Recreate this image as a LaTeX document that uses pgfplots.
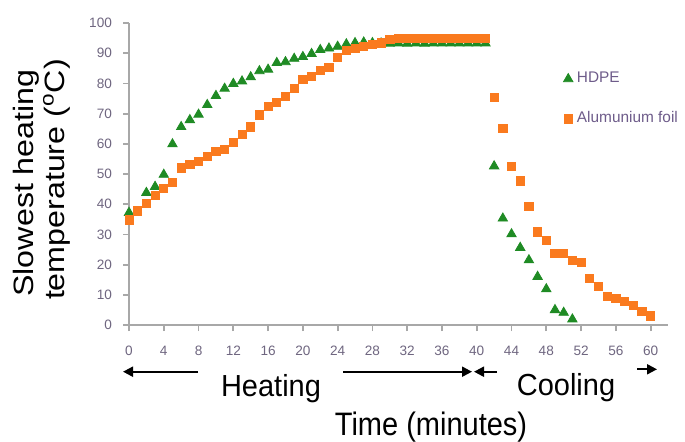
\documentclass[border=0pt]{standalone}
\usepackage{fontspec}
\setmainfont{Liberation Sans}
\usepackage{pgfplots}
\pgfplotsset{compat=1.18}
\usetikzlibrary{arrows.meta}
\definecolor{hdpe}{HTML}{1F8B24}
\definecolor{foil}{HTML}{FA7A1E}
\definecolor{axiscol}{HTML}{A8A8A8}
\definecolor{tickcol}{HTML}{6F6680}
\definecolor{legcol}{HTML}{6E5C8A}

\begin{document}
\begin{tikzpicture}
  \path[fill=white, use as bounding box] (0pt,0pt) rectangle (342.5pt,220.5pt);
  \begin{axis}[
    at={(64.5pt,58pt)}, anchor=south west,
    scale only axis,
    width=269.5pt, height=151pt,
    xmin=0, xmax=62, ymin=0, ymax=100,
    clip=false,
    axis x line*=bottom, axis y line*=left,
    axis line style={draw=axiscol, line width=0.9pt},
    xtick={0,4,...,60}, ytick={0,10,...,100},
    tick align=outside,
    major tick length=3pt,
    major tick style={draw=axiscol, line width=0.9pt},
    /pgf/number format/assume math mode=true,
    ticklabel style={font=\fontsize{6.8}{8}\selectfont, text=tickcol},
    xticklabel style={yshift=-4pt},
    yticklabel style={xshift=-2pt},
    legend style={draw=none, fill=none, at={(axis cs:49.25,86.5)}, anchor=north west,
      font=\fontsize{7.7}{9}\selectfont, text=legcol, row sep=9pt},
    legend cell align=left,
    legend image code/.code={\draw[mark repeat=1,#1] plot coordinates {(0pt,0pt)};},
  ]
    \addplot[only marks, mark=triangle*, mark size=2.7pt, draw=hdpe, fill=hdpe] coordinates {
      (0,37.2) (2,43.8) (3,45.8) (4,49.8) (5,59.9) (6,65.6) (7,67.9) (8,69.7)
      (9,72.9) (10,75.9) (11,78.3) (12,79.9) (13,80.7) (14,82.1) (15,84.1)
      (16,84.6) (17,86.8) (18,87.1) (19,88.2) (20,88.8) (21,89.8) (22,91.1)
      (23,91.6) (24,92.2) (25,93.0) (26,93.4) (27,93.6) (28,93.4) (29,93.3)
      (30,93.2) (31,93.3) (32,93.2) (33,93.3) (34,93.2) (35,93.3) (36,93.3)
      (37,93.3) (38,93.3) (39,93.3) (40,93.3) (41,93.3)
      (42,52.6) (43,35.3) (44,30.1) (45,25.6) (46,21.5) (47,16.0) (48,11.9)
      (49,5.0) (50,4.1) (51,1.9)
    };
    \addlegendentry{HDPE}
    \addplot[only marks, mark=square*, mark size=2.05pt, draw=foil, fill=foil] coordinates {
      (0,34.8) (1,37.8) (2,40.3) (3,43.0) (4,45.3) (5,47.3) (6,52.0) (7,53.3)
      (8,54.2) (9,55.8) (10,57.5) (11,58.2) (12,60.5) (13,63.1) (14,65.6)
      (15,69.6) (16,72.5) (17,73.6) (18,75.6) (19,78.4) (20,81.3) (21,82.3)
      (22,84.4) (23,85.2) (24,88.5) (25,90.8) (26,91.5) (27,92.2) (28,93.0)
      (29,93.4) (30,94.7) (31,95.0) (32,95.0) (33,95.0) (34,95.0) (35,95.0)
      (36,95.0) (37,95.0) (38,95.0) (39,95.0) (40,95.0) (41,95.0)
      (42,75.4) (43,65.1) (44,52.4) (45,47.7) (46,39.4) (47,30.8) (48,28.1)
      (49,23.7) (50,23.7) (51,21.5) (52,20.6) (53,15.5) (54,12.9) (55,9.4)
      (56,8.8) (57,7.9) (58,6.4) (59,4.6) (60,3.0)
    };
    \addlegendentry{Alumunium foil}
  \end{axis}
  \begin{scope}[x=0.5pt, y=0.5pt]
    % phase arrows under the time axis
    \draw[line width=1pt, -{Triangle[length=5pt,width=5pt]}] (198,69.3) -- (123,69.3);
    \draw[line width=1pt, -{Triangle[length=5pt,width=5pt]}] (343,69.3) -- (472,69.3);
    \draw[line width=1pt, -{Triangle[length=5pt,width=5pt]}] (497,69.3) -- (474,69.3);
    \draw[line width=1pt, -{Triangle[length=5pt,width=5pt]}] (637,71.7) -- (657,71.7);
    \node[anchor=base, yscale=1.05, font=\fontsize{14.5}{16}\selectfont] at (271,44.3) {Heating};
    \node[anchor=base, yscale=1.05, font=\fontsize{14.5}{16}\selectfont] at (566,46) {Cooling};
    \node[anchor=base, yscale=1.12, font=\fontsize{14.5}{16}\selectfont] at (431,6) {Time (minutes)};
    \node[anchor=base, rotate=90, xscale=1.15, font=\fontsize{14}{16}\selectfont] at (33.3,258) {Slowest heating};
    \node[anchor=base, rotate=90, xscale=1.15, font=\fontsize{14}{16}\selectfont] at (64,261.5) {temperature (\textsuperscript{o}C)};
  \end{scope}
\end{tikzpicture}
\end{document}
